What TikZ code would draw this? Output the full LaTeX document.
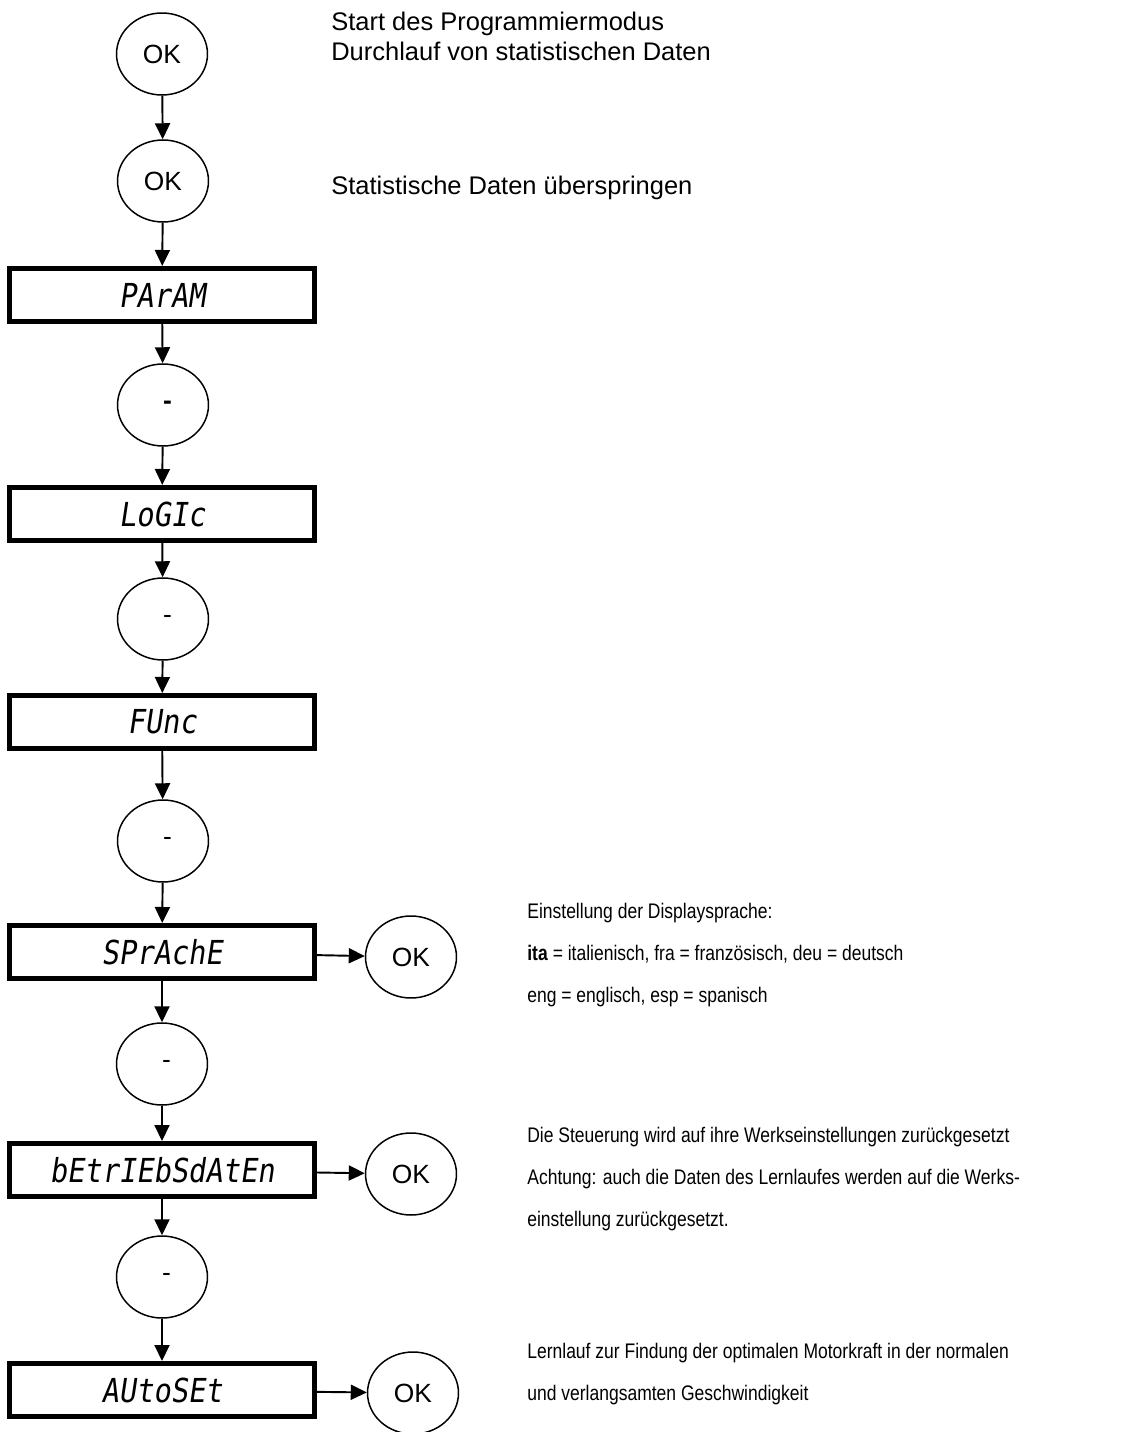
\documentclass[tikz,border=0pt]{standalone}
\usepackage{fontspec}
\setmainfont{Liberation Sans}
\newfontfamily\lcdfont{DejaVu Sans Mono}[FakeSlant=0.15,FakeStretch=0.87]
\newfontfamily\notefont{Liberation Sans}[FakeStretch=0.83]
\usetikzlibrary{shapes.geometric, arrows.meta}

\tikzset{
  taste/.style={ellipse, draw, line width=0.85pt, minimum width=1.82cm, minimum height=1.64cm, inner sep=0pt, font=\fontsize{15}{17}\selectfont},
  anzeige/.style={rectangle, draw, line width=2.85pt, minimum width=6.1cm, minimum height=1.06cm, inner sep=0pt, font=\lcdfont\fontsize{18.8}{20}\selectfont},
  pfeil/.style={-{Triangle[length=0.32cm,width=0.3cm]}, line width=1.1pt},
  titel/.style={anchor=base west, align=left, inner sep=0pt, font=\fontsize{14.5}{17.6}\selectfont},
  hinweis/.style={anchor=base west, align=left, inner sep=0pt, font=\notefont\fontsize{12}{23.9}\selectfont}
}

\begin{document}
\begin{tikzpicture}[x=0.02cm, y=-0.02cm]
    \useasboundingbox (0,0) rectangle (1134,1432);

    \node[taste] (ok1) at (162,54) {OK};
    \node[taste] (ok2) at (163,181) {OK};
    \node[anzeige] (param) at (162,295) {PArAM};
    \node[taste] (minus1) at (163,405) {\bfseries\,\,-};
    \node[anzeige] (logic) at (162,514) {LoGIc};
    \node[taste] (minus2) at (163,619) {\,\,-};
    \node[anzeige] (func) at (162,722) {FUnc};
    \node[taste] (minus3) at (163,841) {\,\,-};
    \node[anzeige] (sprache) at (162,952) {SPrAchE};
    \node[taste] (oksprache) at (411,957) {OK};
    \node[taste] (minus4) at (162,1064) {\,\,-};
    \node[anzeige] (betrieb) at (162,1170) {bEtrIEbSdAtEn};
    \node[taste] (okbetrieb) at (411,1174) {OK};
    \node[taste] (minus5) at (162,1277) {\,\,-};
    \node[anzeige] (autoset) at (162,1390) {AUtoSEt};
    \node[taste] (okautoset) at (413,1393) {OK};

    % Erklaerungen (base = letzte Zeile)
    \node[titel] (start) at (331,61) {Start des Programmiermodus\\Durchlauf von statistischen Daten};
    \node[titel] (skip) at (331,195) {Statistische Daten überspringen};
    \node[hinweis] (sprachtext) at (527,1002) {Einstellung der Displaysprache:\\\textbf{ita} = italienisch, fra = französisch, deu = deutsch\\eng = englisch, esp = spanisch};
    \node[hinweis] (resettext) at (527,1226) {Die Steuerung wird auf ihre Werkseinstellungen zurückgesetzt\\Achtung: auch die Daten des Lernlaufes werden auf die Werks-\\einstellung zurückgesetzt.};
    \node[hinweis] (autosettext) at (527,1400) {Lernlauf zur Findung der optimalen Motorkraft in der normalen\\und verlangsamten Geschwindigkeit};

    \draw[pfeil] (ok1) -- (ok2);
    \draw[pfeil] (ok2) -- (param);
    \draw[pfeil] (param) -- (minus1);
    \draw[pfeil] (minus1) -- (logic);
    \draw[pfeil] (logic) -- (minus2);
    \draw[pfeil] (minus2) -- (func);
    \draw[pfeil] (func) -- (minus3);
    \draw[pfeil] (minus3) -- (sprache);
    \draw[pfeil] (sprache) -- (oksprache);
    \draw[pfeil] (sprache) -- (minus4);
    \draw[pfeil] (minus4) -- (betrieb);
    \draw[pfeil] (betrieb) -- (okbetrieb);
    \draw[pfeil] (betrieb) -- (minus5);
    \draw[pfeil] (minus5) -- (autoset);
    \draw[pfeil] (autoset) -- (okautoset);
\end{tikzpicture}
\end{document}
